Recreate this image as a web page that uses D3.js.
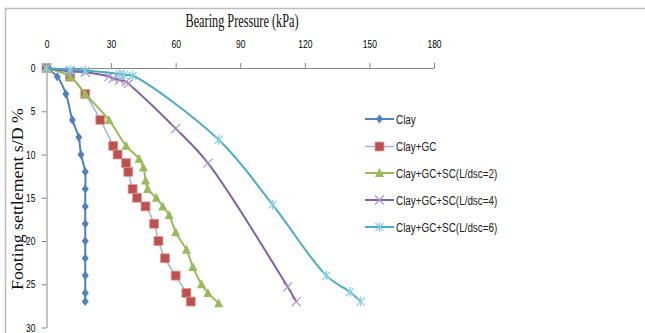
<!DOCTYPE html>
<html><head><meta charset="utf-8">
<script src="https://cdn.jsdelivr.net/npm/d3@7"></script>
<style>body{margin:0;background:#fff}svg{display:block}</style>
</head><body>
<svg id="c" width="645" height="333"></svg>
<script>
const xTicks = [0,30,60,90,120,150,180];
const yTicks = [0,5,10,15,20,25,30];
const seriesNames = ["Clay","Clay+GC","Clay+GC+SC(L/dsc=2)","Clay+GC+SC(L/dsc=4)","Clay+GC+SC(L/dsc=6)"];
const clayX = [0,5,9,12,15,16,18,18,18,18,18,18,18,18,18];
const clayY = [0,1,3,6,8,10,12,14,16,18,20,22,24,26,27];
const gcX = [0,11,18,25,31,33,37,38,40,42,46,50,52,55,60,65,67];
const gcY = [0,1,3,6,9,10,11,12,14,15,16,18,20,22,24,26,27];
const sc2X = [0,11,18,29,37,43,45,46,47,51,54,57,60,65,68,72,75,80];
const sc2Y = [0,1,3,6,9,10.5,11.5,13,14,15,16,17,19,21,23,25,26,27.2];
const sc4X = [0,11,18,29,31,34,37,38,60,75,112,116];
const sc4Y = [0,0.4,0.5,1.0,1.2,1.4,1.6,1.8,7,11,25.3,27];
const sc6X = [0,11,18,34,36,40,80,105,130,141,146];
const sc6Y = [0,0.2,0.3,0.7,0.8,0.9,8.3,15.8,24,25.9,27];

const svg = d3.select("#c");
const x = d3.scaleLinear().domain([0,180]).range([46.5,434]);
const y = d3.scaleLinear().domain([0,30]).range([68,327.5]);

function condense(sel, f){
  sel.each(function(){
    const w = this.getComputedTextLength();
    d3.select(this).attr("textLength", w*f).attr("lengthAdjust","spacingAndGlyphs");
  });
}

// outer border
svg.append("path").attr("d","M5.5,340V8.5H650").attr("fill","none").attr("stroke","#bdbdbd").attr("stroke-width",1.5);

const tickFont = "'Liberation Sans',Arial,sans-serif";
const xAxis = svg.append("g").attr("transform",`translate(0,${y(0)})`)
  .call(d3.axisTop(x).tickValues(xTicks).tickSize(5).tickPadding(15).tickSizeOuter(0));
const yAxis = svg.append("g").attr("transform",`translate(${x(0)},0)`)
  .call(d3.axisLeft(y).tickValues(yTicks).tickSize(5).tickPadding(6).tickSizeOuter(0));
[xAxis,yAxis].forEach(g=>{
  g.select(".domain").attr("stroke","#888").attr("stroke-width",1);
  g.selectAll(".tick line").attr("stroke","#888");
  g.selectAll("text").attr("font-family",tickFont).attr("font-size",11.5).attr("fill","#000");
  condense(g.selectAll("text"),0.74);
});

svg.append("text").attr("x",242).attr("y",27).attr("text-anchor","middle")
  .attr("font-family","'Liberation Serif','Times New Roman',serif").attr("font-size",19)
  .attr("textLength",113).attr("lengthAdjust","spacingAndGlyphs").attr("fill","#111")
  .text("Bearing Pressure (kPa)");
svg.append("text").attr("transform","translate(23,199) rotate(-90)").attr("text-anchor","middle")
  .attr("font-family","'Liberation Serif','Times New Roman',serif").attr("font-size",17.5)
  .attr("textLength",182).attr("lengthAdjust","spacingAndGlyphs").attr("fill","#111")
  .text("Footing settlement s/D %");

const series = [
  {name:seriesNames[0], xs:clayX, ys:clayY, line:"#4F81BD", lw:2, mk:"diamond", mc:"#4F81BD"},
  {name:seriesNames[1], xs:gcX, ys:gcY, line:"#9DB5D9", lw:1.5, mk:"square", mc:"#C0504D"},
  {name:seriesNames[2], xs:sc2X, ys:sc2Y, line:"#9BBB59", lw:2, mk:"triangle", mc:"#9BBB59"},
  {name:seriesNames[3], xs:sc4X, ys:sc4Y, line:"#8064A2", lw:2, mk:"x", mc:"#A793C6"},
  {name:seriesNames[4], xs:sc6X, ys:sc6Y, line:"#4BACC6", lw:2, mk:"star", mc:"#86CFE2"}
];

function marker(g, type, color, cx, cy){
  if(type==="diamond"){
    g.append("path").attr("d",`M${cx},${cy-4.5}L${cx+3.5},${cy}L${cx},${cy+4.5}L${cx-3.5},${cy}Z`).attr("fill",color);
  } else if(type==="square"){
    g.append("rect").attr("x",cx-4.5).attr("y",cy-4.5).attr("width",9).attr("height",9)
      .attr("fill",color).attr("stroke","#D9A09E").attr("stroke-width",0.8);
  } else if(type==="triangle"){
    g.append("path").attr("d",`M${cx},${cy-5}L${cx+4.5},${cy+4}L${cx-4.5},${cy+4}Z`).attr("fill",color);
  } else if(type==="x"){
    g.append("path").attr("d",`M${cx-4.5},${cy-4.5}L${cx+4.5},${cy+4.5}M${cx-4.5},${cy+4.5}L${cx+4.5},${cy-4.5}`)
      .attr("stroke",color).attr("stroke-width",1.2);
  } else if(type==="star"){
    g.append("path").attr("d",`M${cx-4},${cy-4}L${cx+4},${cy+4}M${cx-4},${cy+4}L${cx+4},${cy-4}M${cx},${cy-5}L${cx},${cy+5}`)
      .attr("stroke",color).attr("stroke-width",1.2);
  }
}

const line = d3.line().curve(d3.curveCatmullRom.alpha(0.5)).x(d=>x(d[0])).y(d=>y(d[1]));
series.forEach(s=>{
  const pts = s.xs.map((v,i)=>[v,s.ys[i]]);
  const g = svg.append("g");
  g.append("path").attr("d",line(pts)).attr("fill","none").attr("stroke",s.line).attr("stroke-width",s.lw);
  pts.forEach(p=>marker(g,s.mk,s.mc,x(p[0]),y(p[1])));
});

// legend
const legRows = [119,146.5,173,200,227];
series.forEach((s,i)=>{
  const g = svg.append("g");
  const ly = legRows[i];
  g.append("line").attr("x1",365).attr("x2",394).attr("y1",ly).attr("y2",ly).attr("stroke",s.line).attr("stroke-width",s.lw);
  marker(g,s.mk,s.mc,379.5,ly);
  const t = g.append("text").attr("x",396).attr("y",ly+4.5).attr("font-family",tickFont).attr("font-size",13).attr("fill","#222").text(s.name);
  condense(t,0.76);
});
</script>
</body></html>
